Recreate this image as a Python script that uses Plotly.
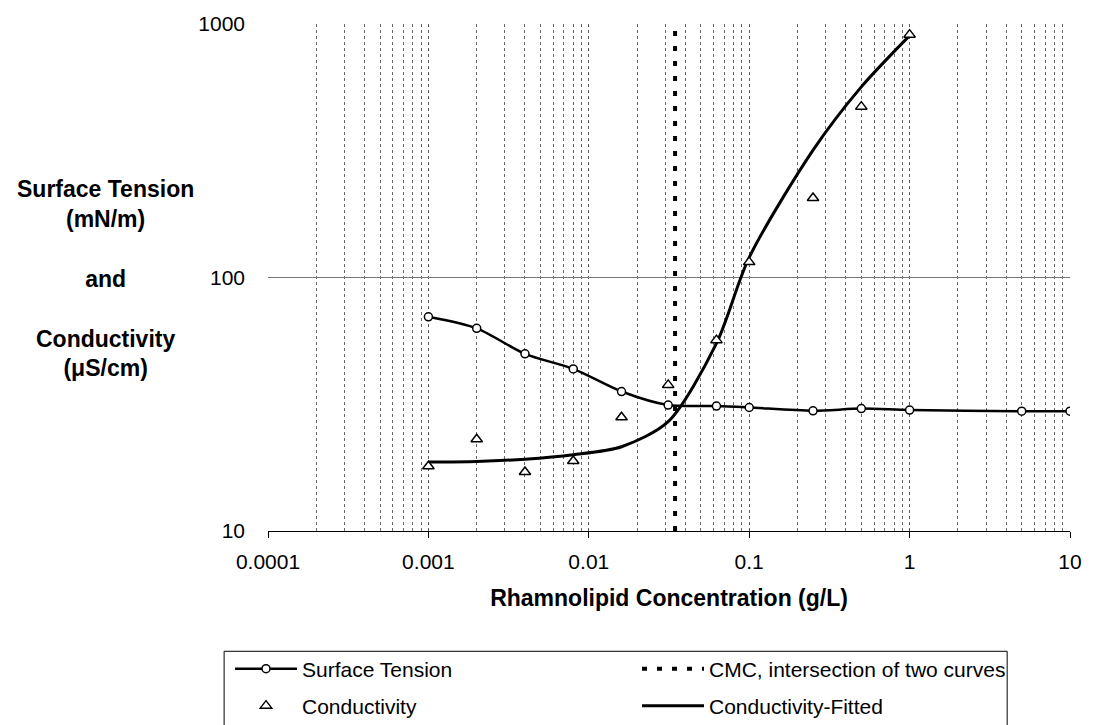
import plotly.graph_objects as go

# Rhamnolipid concentration series (g/L)
conc_st = [0.001, 0.002, 0.004, 0.008, 0.016, 0.03125, 0.0625, 0.1, 0.25, 0.5, 1, 5, 10]
surface_tension = [70.0, 63.0, 50.0, 43.6, 35.5, 31.4, 31.1, 30.7, 29.8, 30.4, 30.0, 29.7, 29.7]

conc_cond = [0.001, 0.002, 0.004, 0.008, 0.016, 0.03125, 0.0625, 0.1, 0.25, 0.5, 1]
conductivity = [18.0, 23.0, 17.1, 18.9, 28.1, 37.7, 56.6, 115.0, 206.0, 472.0, 908.0]
conductivity_fit = [18.7, 18.8, 19.2, 20.0, 21.5, 27.0, 55.0, 120.0, 318.0, 565.0, 900.0]

cmc_conc = 0.0345
cmc_range = [10, 1000]

x_tickvals = [0.0001, 0.001, 0.01, 0.1, 1, 10]
x_ticktext = ["0.0001", "0.001", "0.01", "0.1", "1", "10"]
y_tickvals = [10, 100, 1000]
y_ticktext = ["10", "100", "1000"]
x_minor = [m * 10.0 ** e for e in range(-4, 1) for m in range(2, 10)]

FONT = "Liberation Sans, Arial, sans-serif"

fig = go.Figure()

fig.add_trace(go.Scatter(
    x=[cmc_conc, cmc_conc], y=cmc_range, mode="lines",
    name="CMC, intersection of two curves",
    line=dict(color="black", width=4, dash="5px,10px"),
    legend="legend", legendrank=2, legendwidth=305,
))
fig.add_trace(go.Scatter(
    x=conc_cond, y=conductivity_fit, mode="lines",
    name="Conductivity-Fitted",
    line=dict(color="black", width=3, shape="spline", smoothing=0.8),
    legend="legend2", legendrank=2, legendwidth=305,
))
fig.add_trace(go.Scatter(
    x=conc_st, y=surface_tension, mode="lines+markers",
    name="Surface Tension",
    line=dict(color="black", width=2.5, shape="spline", smoothing=0.8),
    marker=dict(symbol="circle", size=8, color="white",
                line=dict(color="black", width=1.5)),
    legend="legend", legendrank=1, legendwidth=330,
))
fig.add_trace(go.Scatter(
    x=conc_cond, y=conductivity, mode="markers",
    name="Conductivity",
    marker=dict(symbol="triangle-up", size=10, color="white",
                line=dict(color="black", width=1.5)),
    legend="legend2", legendrank=1, legendwidth=330,
))

legend_common = dict(
    orientation="h", xref="container", yref="container",
    x=230 / 1094, xanchor="left", yanchor="middle",
    itemwidth=62, entrywidthmode="pixels",
    borderwidth=0, bgcolor="rgba(0,0,0,0)",
    font=dict(family=FONT, size=21, color="black"),
)

fig.update_layout(
    width=1094, height=725,
    margin=dict(l=268, r=22, t=21, b=194),
    paper_bgcolor="white", plot_bgcolor="white",
    font=dict(family=FONT, size=21, color="black"),
    xaxis=dict(
        type="log", range=[-4, 1],
        tickvals=x_tickvals, ticktext=x_ticktext,
        ticks="outside", ticklen=6, tickcolor="black", tickwidth=1,
        ticklabelstandoff=6,
        showline=True, linecolor="black", linewidth=1,
        showgrid=True, gridcolor="#5a5a5a", gridwidth=1, griddash="dot",
        minor=dict(tickvals=x_minor, showgrid=True, gridcolor="#666666",
                   gridwidth=1, griddash="dot", ticks=""),
        zeroline=False,
        tickfont=dict(family=FONT, size=21, color="black"),
        title=dict(text="<b>Rhamnolipid Concentration (g/L)</b>",
                   font=dict(family=FONT, size=23, color="black"), standoff=17),
    ),
    yaxis=dict(
        type="log", range=[1, 3],
        tickvals=y_tickvals, ticktext=y_ticktext,
        ticks="", showline=False,
        showgrid=True, gridcolor="#777777", gridwidth=1,
        zeroline=False, ticklabelstandoff=22,
        tickfont=dict(family=FONT, size=21, color="black"),
    ),
    legend=dict(legend_common, y=1 - 669 / 725),
    legend2=dict(legend_common, y=1 - 706 / 725),
    showlegend=True,
)

# Frame around the two legend rows
fig.add_shape(
    type="rect", xref="paper", yref="paper",
    x0=(224 - 268) / 804, x1=(1009 - 268) / 804,
    y0=(531 - 652) / 510, y1=(531 - 732) / 510,
    line=dict(color="black", width=1), fillcolor="rgba(0,0,0,0)", layer="above",
)

# Horizontal, multi-line y-axis caption
fig.add_annotation(
    xref="paper", yref="paper",
    x=(105 - 268) / 804, y=(531 - 277) / 510,
    xanchor="center", yanchor="middle", align="center", showarrow=False,
    text=("<b>Surface Tension</b><br><b>(mN/m)</b><br> <br><b>and</b><br> <br>"
          "<b>Conductivity</b><br><b>(\u03bcS/cm)</b>"),
    font=dict(family=FONT, size=23, color="black"),
)

fig.write_html("out.html")
